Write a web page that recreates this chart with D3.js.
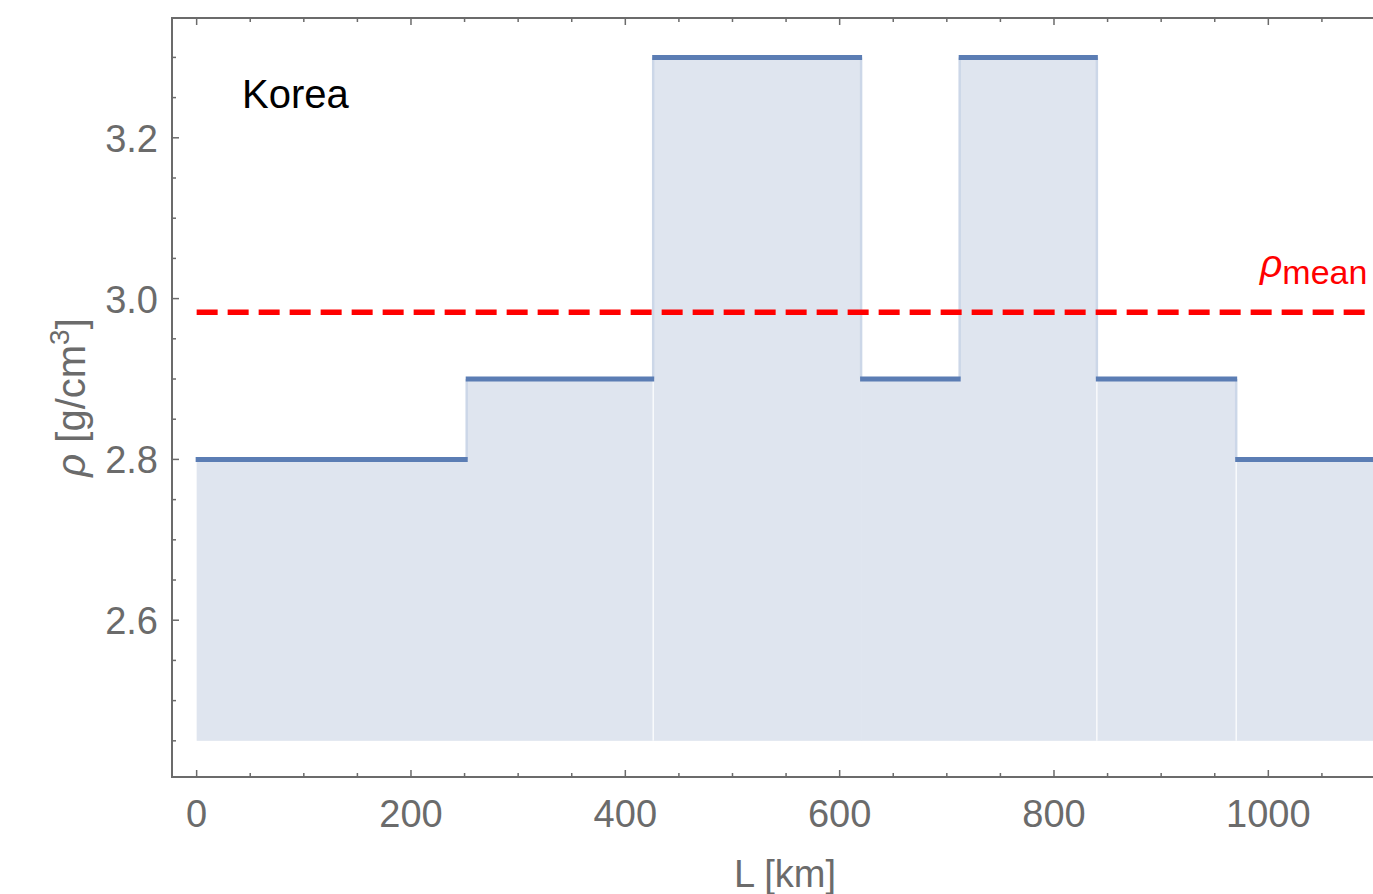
<!DOCTYPE html>
<html>
<head>
<meta charset="utf-8">
<script src="https://cdn.jsdelivr.net/npm/d3@7"></script>
<style>
  html, body { margin: 0; padding: 0; background: #fff; overflow: hidden; }
  svg { display: block; font-family: "Liberation Sans", Arial, sans-serif; }
</style>
</head>
<body>
<svg id="chart" width="1373" height="894"></svg>
<script>
// step profile along L (km): segment edges and density per segment
const edges = [0, 252, 426, 620, 712, 840, 970, 1100];
const density = [2.8, 2.9, 3.3, 2.9, 3.3, 2.9, 2.8];
const seams = [426, 840, 970];   // boundaries where the filling shows a white seam
const fillBase = 2.45;
const meanDensity = 2.983;
const xTicks = [0, 200, 400, 600, 800, 1000];
const yTicks = [2.6, 2.8, 3.0, 3.2];

const frame = {left: 172, top: 18, right: 1398, bottom: 777};

const svg = d3.select('#chart');

const x = d3.scaleLinear().domain([-23, 1121]).range([frame.left, frame.right]);
const y = d3.scaleLinear().domain([2.405, 3.349]).range([frame.bottom, frame.top]);

const lineColor = '#5b7db4';
const fillColor = '#dfe5ef';
const edgeColor = '#ccd7e8';
const axisColor = '#6b6b6b';

const segs = density.map((d, i) => ({x0: edges[i], x1: edges[i + 1], v: d}));

// filled areas
svg.append('g').selectAll('rect')
  .data(segs)
  .enter().append('rect')
  .attr('x', d => x(d.x0))
  .attr('width', d => x(d.x1) - x(d.x0) + 0.5)
  .attr('y', d => y(d.v))
  .attr('height', d => y(fillBase) - y(d.v))
  .attr('fill', fillColor);

// step edges of the filling
const inner = edges.slice(1, -1).map((e, i) => ({
  at: e,
  lo: Math.min(density[i], density[i + 1]),
  hi: Math.max(density[i], density[i + 1])
}));

svg.append('g').selectAll('line')
  .data(inner)
  .enter().append('line')
  .attr('x1', d => x(d.at)).attr('x2', d => x(d.at))
  .attr('y1', d => y(d.lo)).attr('y2', d => y(d.hi))
  .attr('stroke', edgeColor)
  .attr('stroke-width', 2.5);

svg.append('g').selectAll('line')
  .data(inner.filter(d => seams.includes(d.at)))
  .enter().append('line')
  .attr('x1', d => x(d.at)).attr('x2', d => x(d.at))
  .attr('y1', d => y(d.lo)).attr('y2', d => y(fillBase))
  .attr('stroke', '#fff')
  .attr('stroke-width', 1.2);

// frame
svg.append('rect')
  .attr('x', frame.left).attr('y', frame.top)
  .attr('width', frame.right - frame.left)
  .attr('height', frame.bottom - frame.top)
  .attr('fill', 'none')
  .attr('stroke', axisColor)
  .attr('stroke-width', 2);

// ticks (inward, on all sides)
const xMinor = d3.range(0, 1101, 50);
const yMinor = d3.range(2.45, 3.34, 0.05).map(v => +v.toFixed(2));
const isMajorX = v => xTicks.includes(v);
const isMajorY = v => yTicks.some(t => Math.abs(t - v) < 1e-6);

const tickG = svg.append('g').attr('stroke', axisColor).attr('stroke-width', 1.5);
xMinor.forEach(v => {
  const len = isMajorX(v) ? 7 : 4;
  tickG.append('line').attr('x1', x(v)).attr('x2', x(v))
    .attr('y1', frame.bottom).attr('y2', frame.bottom - len);
  tickG.append('line').attr('x1', x(v)).attr('x2', x(v))
    .attr('y1', frame.top).attr('y2', frame.top + len);
});
yMinor.forEach(v => {
  const len = isMajorY(v) ? 7 : 4;
  tickG.append('line').attr('y1', y(v)).attr('y2', y(v))
    .attr('x1', frame.left).attr('x2', frame.left + len);
});

// step line
svg.append('g').selectAll('line')
  .data(segs)
  .enter().append('line')
  .attr('x1', d => x(d.x0) - 1).attr('x2', d => x(d.x1) + 1)
  .attr('y1', d => y(d.v)).attr('y2', d => y(d.v))
  .attr('stroke', lineColor)
  .attr('stroke-width', 5);

// mean line
svg.append('line')
  .attr('x1', x(0)).attr('x2', frame.right)
  .attr('y1', y(meanDensity)).attr('y2', y(meanDensity))
  .attr('stroke', '#ff0000')
  .attr('stroke-width', 5.5)
  .attr('stroke-dasharray', '21 10');

const meanLbl = svg.append('text')
  .attr('x', 1260).attr('y', 277)
  .attr('fill', '#ff0000');
meanLbl.append('tspan').attr('font-style', 'italic').attr('font-size', 39).text('ρ');
meanLbl.append('tspan').attr('font-size', 34).attr('dy', 7).text('mean');

// tick labels
svg.append('g').selectAll('text')
  .data(xTicks)
  .enter().append('text')
  .attr('x', d => x(d)).attr('y', 827)
  .attr('text-anchor', 'middle')
  .attr('font-size', 38)
  .attr('fill', axisColor)
  .text(d => d);

svg.append('g').selectAll('text')
  .data(yTicks)
  .enter().append('text')
  .attr('x', 158).attr('y', d => y(d) + 14)
  .attr('text-anchor', 'end')
  .attr('font-size', 38)
  .attr('fill', axisColor)
  .text(d => d.toFixed(1));

// axis labels
svg.append('text')
  .attr('x', 785).attr('y', 887)
  .attr('text-anchor', 'middle')
  .attr('font-size', 38)
  .attr('fill', axisColor)
  .text('L [km]');

const yl = svg.append('text')
  .attr('transform', 'translate(85,' + ((frame.top + frame.bottom) / 2) + ') rotate(-90)')
  .attr('text-anchor', 'middle')
  .attr('font-size', 40)
  .attr('fill', axisColor);
yl.append('tspan').attr('font-style', 'italic').text('ρ');
yl.append('tspan').text(' [g/cm');
yl.append('tspan').attr('font-size', 28).attr('dy', -16).text('3');
yl.append('tspan').attr('dy', 16).text(']');

svg.append('text')
  .attr('x', 242).attr('y', 108)
  .attr('font-size', 40)
  .attr('fill', '#000')
  .text('Korea');
</script>
</body>
</html>
